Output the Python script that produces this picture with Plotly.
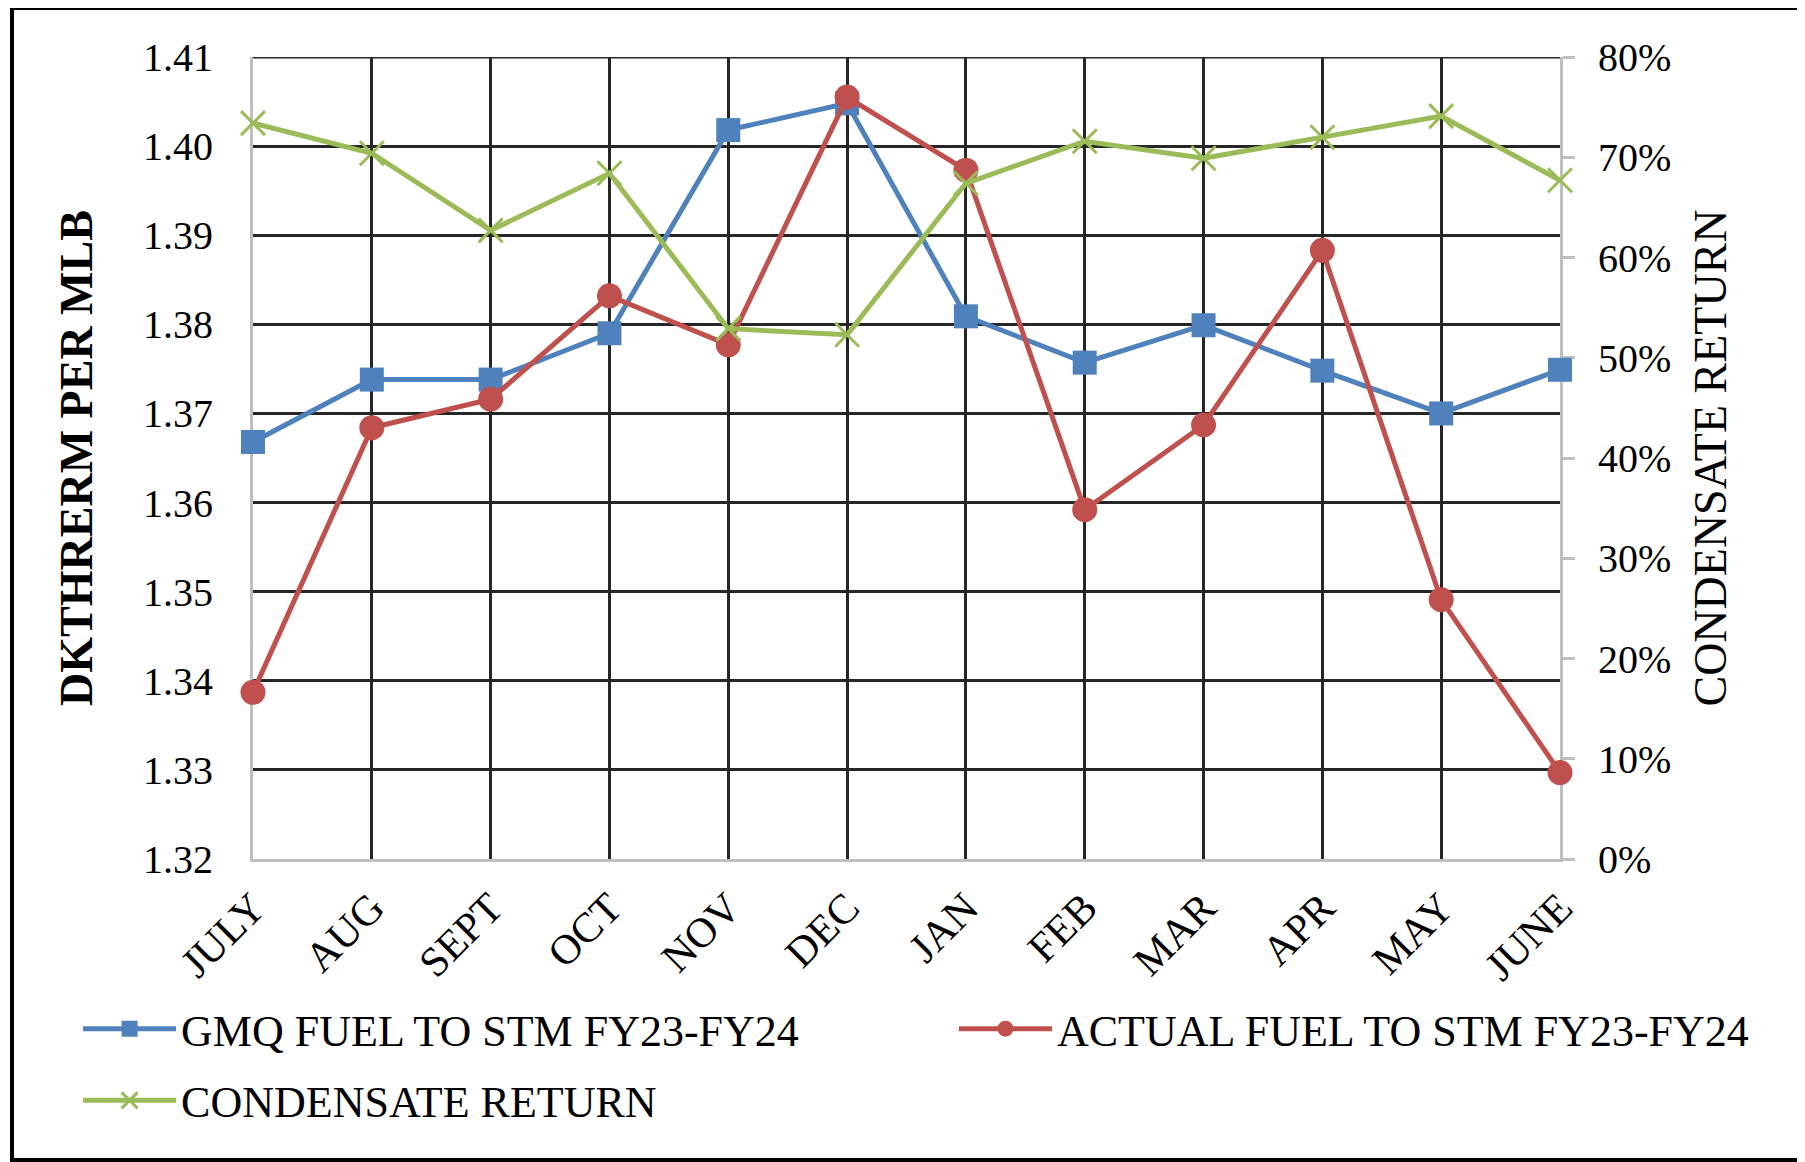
import plotly.graph_objects as go

months = ["JULY", "AUG", "SEPT", "OCT", "NOV", "DEC", "JAN", "FEB", "MAR", "APR", "MAY", "JUNE"]
gmq_fuel = [1.3668, 1.3738, 1.3738, 1.3790, 1.4018, 1.4048, 1.3809, 1.3757, 1.3799, 1.3748, 1.3700, 1.3749]
actual_fuel = [1.3387, 1.3684, 1.3716, 1.3832, 1.3777, 1.4055, 1.3973, 1.3592, 1.3687, 1.3883, 1.3491, 1.3297]
condensate = [0.734, 0.704, 0.627, 0.684, 0.529, 0.523, 0.674, 0.716, 0.699, 0.720, 0.741, 0.677]

names = ["GMQ FUEL TO STM FY23-FY24", "ACTUAL FUEL TO STM FY23-FY24", "CONDENSATE RETURN"]
Y_RANGE = [1.32, 1.41]
Y2_RANGE = [0, 0.8]

BLUE = "#4F81BD"
RED = "#C0504D"
GREEN = "#9BBB59"
GRID = "#262626"
AXIS = "#BFBFBF"
FONT = "Liberation Serif"

fig = go.Figure()
fig.add_trace(go.Scatter(
    x=months, y=gmq_fuel, name=names[0], mode="lines+markers",
    line=dict(color=BLUE, width=5),
    marker=dict(symbol="square", size=24, color=BLUE),
    cliponaxis=False, legend="legend"))
fig.add_trace(go.Scatter(
    x=months, y=actual_fuel, name=names[1], mode="lines+markers",
    line=dict(color=RED, width=5),
    marker=dict(symbol="circle", size=25, color=RED),
    cliponaxis=False, legend="legend2"))
fig.add_trace(go.Scatter(
    x=months, y=condensate, name=names[2], mode="lines+markers",
    line=dict(color=GREEN, width=5),
    marker=dict(symbol="x-thin-open", size=24, color=GREEN, line=dict(color=GREEN, width=3)),
    yaxis="y2", cliponaxis=False, legend="legend3"))

# top border gridline at the axis maximum
fig.add_shape(type="line", xref="paper", x0=0, x1=1, yref="y", y0=Y_RANGE[1], y1=Y_RANGE[1],
              line=dict(color=GRID, width=3), layer="below")
# outer chart frame
fig.add_shape(type="rect", xref="paper", yref="paper", x0=-0.1844, x1=1.1852, y0=-0.3753, y1=1.0611,
              line=dict(color="black", width=4), fillcolor="rgba(0,0,0,0)")

legend_common = dict(orientation="h", font=dict(family=FONT, size=44, color="black"),
                     itemwidth=93, xanchor="left", yanchor="middle", bgcolor="rgba(0,0,0,0)",
                     xref="container", yref="container", itemclick=False)

# page body has an 8px default margin, so the figure is 8px smaller than the window
fig.update_layout(
    width=1797, height=1154,
    margin=dict(l=245, r=245, t=49, b=303, autoexpand=False),
    paper_bgcolor="white", plot_bgcolor="white",
    font=dict(family=FONT, size=40, color="black"),
    xaxis=dict(
        type="category", range=[0, len(months) - 1], automargin=False,
        showgrid=True, gridcolor=GRID, gridwidth=3,
        showline=True, linecolor=AXIS, linewidth=3,
        ticks="", tickangle=-45, ticklabelstandoff=4,
        tickfont=dict(family=FONT, size=42, color="black"),
        layer="below traces",
    ),
    yaxis=dict(
        range=Y_RANGE, dtick=0.01, tickformat=".2f", automargin=False,
        showgrid=True, gridcolor=GRID, gridwidth=3,
        showline=True, linecolor=AXIS, linewidth=3, zeroline=False,
        ticks="", ticklabelstandoff=29,
        tickfont=dict(family=FONT, size=40, color="black"),
        title=dict(text="<b>DKTHRERM PER MLB</b>", font=dict(family=FONT, size=46, color="black"), standoff=36),
        layer="below traces",
    ),
    yaxis2=dict(
        overlaying="y", side="right", range=Y2_RANGE, dtick=0.1, tickformat=".0%", automargin=False,
        showgrid=False, showline=True, linecolor=AXIS, linewidth=3, zeroline=False,
        ticks="outside", ticklen=12, tickwidth=3, tickcolor=AXIS, ticklabelstandoff=15,
        tickfont=dict(family=FONT, size=40, color="black"),
        title=dict(text="CONDENSATE RETURN", font=dict(family=FONT, size=46, color="black"), standoff=24),
        layer="below traces",
    ),
    legend=dict(x=0.039, y=0.1152, **legend_common),
    legend2=dict(x=0.5264, y=0.1152, **legend_common),
    legend3=dict(x=0.039, y=0.0531, **legend_common),
    showlegend=True,
)

fig.write_html("out.html")
